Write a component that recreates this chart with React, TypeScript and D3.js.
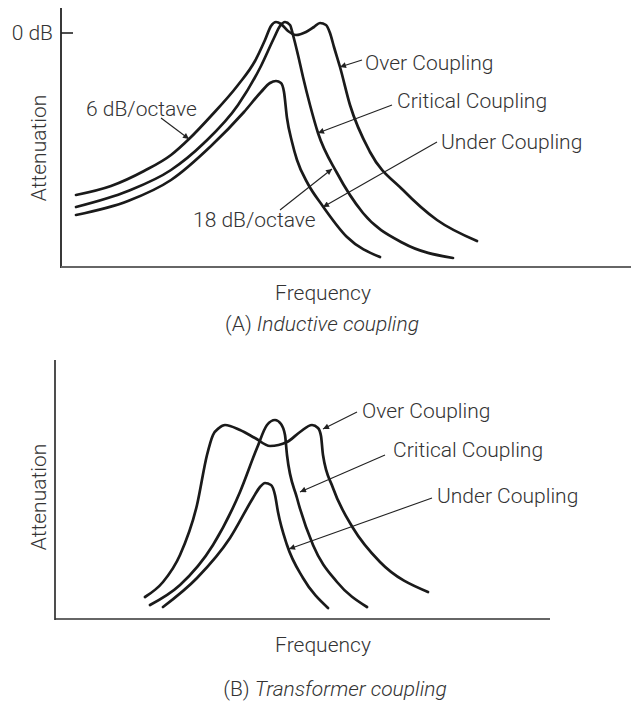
import React from "react";
import * as d3 from "d3";

// ---------- Data (frequency units, attenuation units; 1 unit = chart step) ----------
// Panel A: inductive coupling  [frequency, level]
const overA: [number, number][] = [
  [3, 14.4], [10, 16.2], [16.6, 19.2], [22, 22.4], [25.6, 25.6], [30, 30.2], [35.4, 36.4], [38.8, 41.2],
  [40.8, 45.4], [42, 48.2], [43, 49], [44, 48.6], [45.4, 47.2], [47, 46.4], [49, 47], [50.6, 48],
  [51.8, 48.8], [53, 48.4], [53.8, 46.8], [54.6, 44], [55.8, 40], [57.8, 32.4], [61.8, 23],
  [68.4, 15.4], [75.2, 9.4], [83.2, 5.2],
];
const criticalA: [number, number][] = [
  [3, 12], [13.4, 15.2], [22, 19.4], [28.6, 24.8], [35.4, 32.4], [40, 40.2], [42.6, 45.8], [43.8, 48.2],
  [44.8, 49], [45.8, 48.4], [46.4, 46.4], [47.4, 42.4], [48.4, 38], [49.8, 32.4], [51.4, 26.8],
  [55.2, 18.8], [60.4, 10.8], [68.4, 4.8], [78.4, 1.8],
];
const underA: [number, number][] = [
  [3, 10.4], [13.4, 13.2], [22, 17.4], [30, 24.2], [36.6, 31], [40, 35], [41.8, 36.8], [43, 37.2],
  [44, 36.8], [44.6, 35], [45.2, 29.8], [46.2, 25], [47.2, 21.4], [49.4, 16.6], [52.2, 12.4],
  [57.2, 6], [63.8, 2],
];
// Panel B: transformer coupling
const overB: [number, number][] = [
  [18, 4.4], [21.6, 7.4], [25, 12.8], [28.4, 22.8], [30.4, 32.8], [31.6, 36.8], [32.8, 38.2],
  [34, 38.8], [37, 37.8], [40, 36.2], [43, 34.6], [46.4, 35.4], [49, 37.4], [51.4, 38.8],
  [52.6, 38.2], [53.2, 36.6], [53.6, 32.8], [55.6, 26.2], [59.6, 18.2], [65, 11.4], [74.6, 5.4],
];
const criticalB: [number, number][] = [
  [19, 2.8], [25, 6.8], [31.6, 14.8], [37, 25.4], [40.4, 34.2], [42.4, 38.8], [44, 39.8],
  [45.2, 39], [46, 36.8], [46.4, 32.8], [48.4, 24.2], [51.6, 14.8], [56.4, 7.4], [62.4, 2.4],
];
const underB: [number, number][] = [
  [21.6, 2.4], [28.4, 8.2], [35, 16.2], [39.6, 24.2], [41, 26.4], [42, 27.2], [43.2, 26.8],
  [44, 24.8], [44.6, 21.4], [46.4, 14.8], [49.6, 8.2], [54.6, 2.2],
];

const seriesNames = ["Over Coupling", "Critical Coupling", "Under Coupling"];
const yTickLabelsA = ["0 dB"];
const yTickValuesA = [46.8];
const slopeLabels = ["6 dB/octave", "18 dB/octave"];
const axisTitles = { x: "Frequency", y: "Attenuation" };
const captionPrefixes = ["(A) ", "(B) "];
const captionTitles = ["Inductive coupling", "Transformer coupling"];

// annotation leader lines in data units: [fromX, fromY, toX, toY]
const leadersA: [number, number, number, number][] = [
  [60.2, 41.4, 55.8, 40],     // over
  [66.2, 32.4, 51.4, 26.8],   // critical
  [75.2, 25, 52.4, 12],       // under
  [20, 29.8, 25.6, 25.6],     // 6 dB/octave
  [43.8, 11.4, 54.2, 19.6],   // 18 dB/octave
];
const leadersB: [number, number, number, number][] = [
  [60.4, 41.4, 53.6, 38],
  [66, 32.8, 49, 25.4],
  [75.4, 24.2, 46.8, 14],
];

const FONT = "Roboto, 'Open Sans', sans-serif";
const INK = "#1a1a1a";
const TXT = "#333";

function Panel({
  x0, x1, yTop, yBot, xMax, series, leaders, xAxisColor, xAxisWidth, yAxisWidth, children,
}: any) {
  const x = d3.scaleLinear().domain([0, xMax]).range([x0, x1]);
  const y = d3.scaleLinear().domain([0, (yBot - yTop) / 5]).range([yBot, yTop]);
  const line = d3
    .line<[number, number]>()
    .x((d) => x(d[0]))
    .y((d) => y(d[1]))
    .curve(d3.curveMonotoneX);
  return (
    <g>
      <line x1={x0} x2={x0} y1={yTop} y2={yBot + 1} stroke="#222" strokeWidth={yAxisWidth} />
      <line x1={x0} x2={x1} y1={yBot} y2={yBot} stroke={xAxisColor} strokeWidth={xAxisWidth} />
      {series.map((s: [number, number][], i: number) => (
        <path key={i} d={line(s) || ""} fill="none" stroke={INK} strokeWidth={2.7}
          strokeLinecap="round" strokeLinejoin="round" />
      ))}
      {leaders.map((l: number[], i: number) => (
        <line key={"l" + i} x1={x(l[0])} y1={y(l[1])} x2={x(l[2])} y2={y(l[3])}
          stroke="#222" strokeWidth={1.1} markerEnd="url(#arrow)" />
      ))}
      {children && children(x, y)}
    </g>
  );
}

export default function App() {
  const fontProps = { fontFamily: FONT, fontSize: 21, fontWeight: 300, fill: TXT };
  return (
    <svg width={632} height={703} style={{ position: "absolute", left: 0, top: 0, background: "#fff" }}>
      <defs>
        <marker id="arrow" viewBox="0 0 10 10" refX="10" refY="5" markerWidth="8" markerHeight="6"
          markerUnits="userSpaceOnUse" orient="auto">
          <path d="M0,0 L10,5 L0,10 z" fill="#222" />
        </marker>
      </defs>
      <rect width={632} height={703} fill="#fff" />

      {/* Panel A */}
      <Panel x0={61} x1={631} yTop={8} yBot={267} xMax={114}
        series={[overA, criticalA, underA]} leaders={leadersA}
        xAxisColor="#666" xAxisWidth={2} yAxisWidth={1.8}>
        {(x: any, y: any) => (
          <g>
            {yTickValuesA.map((v, i) => (
              <g key={i}>
                <line x1={x(0)} x2={x(0) + 12} y1={y(v)} y2={y(v)} stroke="#222" strokeWidth={1.6} />
                <text x={x(0) - 8} y={y(v) + 7} textAnchor="end" {...fontProps}>{yTickLabelsA[i]}</text>
              </g>
            ))}
          </g>
        )}
      </Panel>
      <text transform="translate(46,148) rotate(-90)" textAnchor="middle" {...fontProps}>{axisTitles.y}</text>
      <text x={323} y={300} textAnchor="middle" {...fontProps}>{axisTitles.x}</text>
      <text x={322} y={331} textAnchor="middle" {...fontProps}>
        {captionPrefixes[0]}<tspan fontStyle="italic">{captionTitles[0]}</tspan>
      </text>
      <text x={86} y={116} {...fontProps}>{slopeLabels[0]}</text>
      <text x={193} y={227} {...fontProps}>{slopeLabels[1]}</text>
      <text x={365} y={70} {...fontProps}>{seriesNames[0]}</text>
      <text x={397} y={108} {...fontProps}>{seriesNames[1]}</text>
      <text x={441} y={149} {...fontProps}>{seriesNames[2]}</text>

      {/* Panel B */}
      <Panel x0={55} x1={550} yTop={360} yBot={619} xMax={99}
        series={[overB, criticalB, underB]} leaders={leadersB}
        xAxisColor="#333" xAxisWidth={1.5} yAxisWidth={1.6} />
      <text transform="translate(46,497) rotate(-90)" textAnchor="middle" {...fontProps}>{axisTitles.y}</text>
      <text x={323} y={652} textAnchor="middle" {...fontProps}>{axisTitles.x}</text>
      <text x={335} y={696} textAnchor="middle" {...fontProps}>
        {captionPrefixes[1]}<tspan fontStyle="italic">{captionTitles[1]}</tspan>
      </text>
      <text x={362} y={418} {...fontProps}>{seriesNames[0]}</text>
      <text x={393} y={457} {...fontProps}>{seriesNames[1]}</text>
      <text x={437} y={503} {...fontProps}>{seriesNames[2]}</text>
    </svg>
  );
}
